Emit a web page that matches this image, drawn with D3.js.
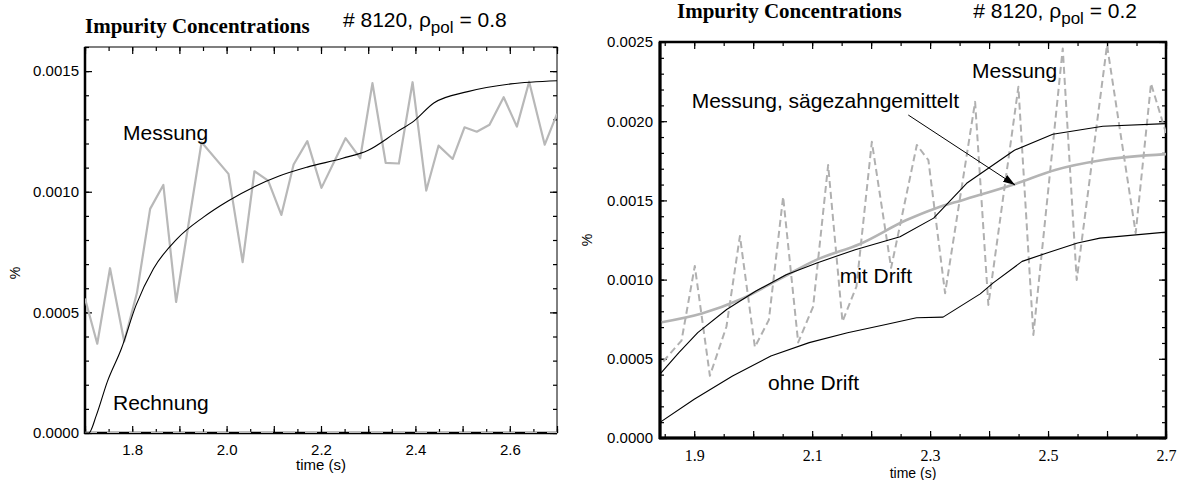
<!DOCTYPE html>
<html>
<head>
<meta charset="utf-8">
<script src="https://cdn.jsdelivr.net/npm/d3@7"></script>
<style>
  body { margin: 0; background: #fff; }
  text { font-family: "Liberation Sans", Arial, sans-serif; fill: #000; }
</style>
</head>
<body>
<div id="wrapper"></div>
<script>
// left panel (rho_pol = 0.8)
const leftCalcT = [1.700, 1.708, 1.724, 1.747, 1.777, 1.808, 1.845, 1.895, 1.951, 2.004, 2.057, 2.110, 2.171, 2.246, 2.299, 2.360, 2.398, 2.439, 2.511, 2.602, 2.700];
const leftCalcV = [0, 0, 0.000073, 0.000211, 0.000349, 0.000529, 0.000681, 0.000805, 0.000895, 0.000963, 0.001019, 0.001064, 0.001102, 0.001139, 0.001171, 0.001247, 0.001295, 0.001368, 0.001415, 0.001447, 0.001460];

const leftMeasT = [1.700, 1.726, 1.753, 1.783, 1.810, 1.838, 1.866, 1.893, 1.947, 2.004, 2.034, 2.059, 2.088, 2.116, 2.142, 2.171, 2.201, 2.252, 2.283, 2.309, 2.337, 2.365, 2.394, 2.423, 2.449, 2.479, 2.504, 2.530, 2.557, 2.587, 2.615, 2.641, 2.674, 2.700];
const leftMeasV = [0.000557, 0.000370, 0.000683, 0.000379, 0.000580, 0.000929, 0.001028, 0.000543, 0.001205, 0.001074, 0.000708, 0.001085, 0.001046, 0.000904, 0.001113, 0.001210, 0.001016, 0.001222, 0.001139, 0.001450, 0.001120, 0.001117, 0.001454, 0.001005, 0.001191, 0.001136, 0.001267, 0.001249, 0.001278, 0.001392, 0.001270, 0.001456, 0.001195, 0.001323];

const leftZeroT = [1.70, 2.70];
const leftZeroV = [0, 0];

// right panel (rho_pol = 0.2)
const rightMeasT = [1.8475, 1.8785, 1.901, 1.9266, 1.9547, 1.9775, 2.0029, 2.0266, 2.0508, 2.0763, 2.1017, 2.1271, 2.1514, 2.1751, 2.2012, 2.2339, 2.2775, 2.2971, 2.3254, 2.3763, 2.3988, 2.4497, 2.4751, 2.5249, 2.5486, 2.600, 2.6486, 2.6746, 2.700];
const rightMeasV = [0.000483, 0.000615, 0.001086, 0.000393, 0.000704, 0.001275, 0.000574, 0.000746, 0.001523, 0.000603, 0.000830, 0.001723, 0.000735, 0.000956, 0.001870, 0.001074, 0.001850, 0.001754, 0.000914, 0.002122, 0.000840, 0.002217, 0.000651, 0.002459, 0.000998, 0.002480, 0.001294, 0.002238, 0.001925];

const rightAvgT = [1.845, 1.913, 1.978, 2.043, 2.108, 2.181, 2.260, 2.310, 2.356, 2.443, 2.512, 2.593, 2.700];
const rightAvgV = [0.000731, 0.000786, 0.000874, 0.001000, 0.001126, 0.001225, 0.001376, 0.001451, 0.001503, 0.001602, 0.001692, 0.001755, 0.001792];

const rightDriftT = [1.842, 1.874, 1.906, 1.955, 2.004, 2.056, 2.108, 2.173, 2.249, 2.306, 2.362, 2.443, 2.508, 2.593, 2.700];
const rightDriftV = [0.000403, 0.000539, 0.000665, 0.000811, 0.000926, 0.001031, 0.001105, 0.001189, 0.001271, 0.001388, 0.001608, 0.001817, 0.001918, 0.001968, 0.001985];

const rightNoDriftT = [1.842, 1.900, 1.965, 2.030, 2.095, 2.160, 2.225, 2.277, 2.322, 2.385, 2.407, 2.456, 2.498, 2.550, 2.588, 2.700];
const rightNoDriftV = [0.000099, 0.000245, 0.000392, 0.000518, 0.000602, 0.000665, 0.000717, 0.000759, 0.000763, 0.000910, 0.000979, 0.001115, 0.001168, 0.001231, 0.001262, 0.001300];

// tick labels
const leftXTicks = [1.8, 2.0, 2.2, 2.4, 2.6];
const leftYTicks = [0, 0.0005, 0.0010, 0.0015];
const rightXTicks = [1.9, 2.1, 2.3, 2.5, 2.7];
const rightYTicks = [0, 0.0005, 0.0010, 0.0015, 0.0020, 0.0025];

const zip = (t, v) => t.map((d, i) => ({ t: d, v: v[i] }));

function drawChart() {
    const svg = d3.select('#wrapper')
        .append('svg')
        .attr('width', 1179)
        .attr('height', 480);

    svg.append('defs').append('marker')
        .attr('id', 'arrow')
        .attr('viewBox', '0 0 12 8')
        .attr('refX', 12)
        .attr('refY', 4)
        .attr('markerWidth', 12)
        .attr('markerHeight', 8)
        .attr('markerUnits', 'userSpaceOnUse')
        .attr('orient', 'auto')
        .append('path')
        .attr('d', 'M0,0 L12,4 L0,8 Z')
        .attr('fill', '#000');

    function panel(p) {
        const x = d3.scaleLinear().domain(p.xDomain).range(p.xRange);
        const y = d3.scaleLinear().domain(p.yDomain).range(p.yRange);
        const g = svg.append('g');
        const [x0, x1] = p.xRange;
        const [y0, y1] = p.yRange;

        g.append('clipPath').attr('id', p.id + '-clip')
            .append('rect')
            .attr('x', x0).attr('y', y1)
            .attr('width', x1 - x0).attr('height', y0 - y1);

        // frame
        g.append('rect')
            .attr('x', x0).attr('y', y1)
            .attr('width', x1 - x0).attr('height', y0 - y1)
            .attr('fill', 'none')
            .attr('stroke', '#000')
            .attr('stroke-width', p.frameWidth);
        g.append('line')
            .attr('x1', x0).attr('x2', x0).attr('y1', y1).attr('y2', y0 + 1)
            .attr('stroke', '#000').attr('stroke-width', p.axisWidth);
        g.append('line')
            .attr('x1', x0 - 1).attr('x2', x1).attr('y1', y0).attr('y2', y0)
            .attr('stroke', '#000').attr('stroke-width', p.axisWidth);

        // inward ticks on all four sides
        const tickSets = [
            [d3.axisBottom(x), p.xMajor, 7, `translate(0,${y0})`],
            [d3.axisBottom(x), p.xMinor, 4, `translate(0,${y0})`],
            [d3.axisTop(x), p.xMajor, 7, `translate(0,${y1})`],
            [d3.axisTop(x), p.xMinor, 4, `translate(0,${y1})`],
            [d3.axisLeft(y), p.yMajor, 7, `translate(${x0},0)`],
            [d3.axisLeft(y), p.yMinor, 4, `translate(${x0},0)`],
            [d3.axisRight(y), p.yMajor, 7, `translate(${x1},0)`],
            [d3.axisRight(y), p.yMinor, 4, `translate(${x1},0)`]
        ];
        tickSets.forEach(([gen, vals, len, tr]) => {
            const a = g.append('g')
                .attr('transform', tr)
                .call(gen.tickValues(vals).tickSize(-len).tickSizeOuter(0).tickFormat(''));
            a.select('.domain').remove();
            a.selectAll('line').attr('stroke', '#000').attr('stroke-width', 1.2);
        });

        // tick labels
        const xl = g.append('g')
            .attr('transform', `translate(0,${y0})`)
            .call(d3.axisBottom(x).tickValues(p.xLabels).tickSize(0).tickPadding(p.xPad).tickFormat(d3.format('.1f')));
        xl.select('.domain').remove();
        xl.selectAll('text')
            .style('font-family', p.xFont)
            .style('font-size', p.xFontSize + 'px')
            .attr('fill', '#000');

        const yl = g.append('g')
            .attr('transform', `translate(${x0},0)`)
            .call(d3.axisLeft(y).tickValues(p.yLabels).tickSize(0).tickPadding(p.yPad).tickFormat(d3.format('.4f')));
        yl.select('.domain').remove();
        yl.selectAll('text')
            .style('font-family', '"Liberation Sans", Arial, sans-serif')
            .style('font-size', '15px')
            .attr('fill', '#000');

        const line = d3.line().x(d => x(d.t)).y(d => y(d.v));
        const plot = g.append('g').attr('clip-path', `url(#${p.id}-clip)`);
        p.series.forEach(s => {
            plot.append('path')
                .attr('d', line.curve(s.curve || d3.curveLinear)(s.data))
                .attr('fill', 'none')
                .attr('stroke', s.color)
                .attr('stroke-width', s.width)
                .attr('stroke-dasharray', s.dash || null)
                .attr('stroke-linejoin', 'round');
        });

        // axis titles
        g.append('text')
            .attr('x', (x0 + x1) / 2)
            .attr('y', p.xTitleY)
            .attr('text-anchor', 'middle')
            .style('font-size', p.xTitleSize + 'px')
            .text('time (s)');
        g.append('text')
            .attr('transform', `translate(${p.yTitleX},${p.yTitleY}) rotate(-90)`)
            .attr('text-anchor', 'middle')
            .style('font-size', '14px')
            .text('%');

        // heading
        g.append('text')
            .attr('x', p.titleX)
            .attr('y', p.titleY)
            .style('font-family', '"Liberation Serif", "Times New Roman", serif')
            .style('font-weight', 'bold')
            .style('font-size', '21px')
            .text('Impurity Concentrations');
        const sub = g.append('text')
            .attr('x', p.shotX)
            .attr('y', p.shotY)
            .attr('text-anchor', p.shotAnchor)
            .style('font-size', '21px');
        sub.append('tspan').text('# 8120, \u03c1');
        sub.append('tspan').attr('dy', 6).style('font-size', '17px').text('pol');
        sub.append('tspan').attr('dy', -6).text(' = ' + p.rho);

        p.labels.forEach(l => {
            g.append('text')
                .attr('x', l.x).attr('y', l.y)
                .attr('text-anchor', l.anchor || 'start')
                .style('font-size', '21px')
                .text(l.text);
        });

        return { x, y, g };
    }

    const step = (a, b, s) => d3.range(Math.round(a / s), Math.round(b / s) + 1).map(i => +(i * s).toFixed(6));

    panel({
        id: 'left',
        xDomain: [1.7, 2.7], xRange: [85, 557],
        yDomain: [0, 0.0016], yRange: [433, 47],
        xMajor: step(1.7, 2.7, 0.1), xMinor: step(1.7, 2.7, 0.05),
        yMajor: step(0, 0.0015, 0.0005), yMinor: step(0, 0.0016, 0.0001),
        xLabels: leftXTicks, yLabels: leftYTicks,
        xFont: '"Liberation Sans", Arial, sans-serif', xFontSize: 15, xPad: 11, yPad: 6,
        frameWidth: 1, axisWidth: 2.5,
        xTitleY: 470, xTitleSize: 15, yTitleX: 20, yTitleY: 273,
        titleX: 85, titleY: 33,
        shotX: 343, shotY: 27, shotAnchor: 'start', rho: '0.8',
        series: [
            { data: zip(leftZeroT, leftZeroV), color: '#bdbdbd', width: 2.5, dash: '12,10' },
            { data: zip(leftMeasT, leftMeasV), color: '#b8b8b8', width: 2.2 },
            { data: zip(leftCalcT, leftCalcV), color: '#000', width: 1.1, curve: d3.curveMonotoneX }
        ],
        labels: [
            { text: 'Messung', x: 123, y: 140 },
            { text: 'Rechnung', x: 113, y: 410 }
        ]
    });

    const right = panel({
        id: 'right',
        xDomain: [1.842, 2.7], xRange: [660, 1166],
        yDomain: [0, 0.0025], yRange: [438, 42],
        xMajor: step(1.9, 2.7, 0.1), xMinor: step(1.85, 2.7, 0.05),
        yMajor: step(0, 0.0025, 0.0005), yMinor: step(0, 0.0025, 0.0001),
        xLabels: rightXTicks, yLabels: rightYTicks,
        xFont: '"Liberation Serif", "Times New Roman", serif', xFontSize: 16, xPad: 12, yPad: 7,
        frameWidth: 2.5, axisWidth: 3,
        xTitleY: 478, xTitleSize: 14, yTitleX: 592, yTitleY: 240,
        titleX: 677, titleY: 18,
        shotX: 1137, shotY: 18, shotAnchor: 'end', rho: '0.2',
        series: [
            { data: zip(rightMeasT, rightMeasV), color: '#b0b0b0', width: 2, dash: '7,4' },
            { data: zip(rightAvgT, rightAvgV), color: '#b4b4b4', width: 2.6, curve: d3.curveMonotoneX },
            { data: zip(rightDriftT, rightDriftV), color: '#000', width: 1.1 },
            { data: zip(rightNoDriftT, rightNoDriftV), color: '#000', width: 1.1 }
        ],
        labels: [
            { text: 'Messung', x: 972, y: 78 },
            { text: 'Messung, s\u00e4gezahngemittelt', x: 959, y: 108, anchor: 'end' },
            { text: 'mit Drift', x: 912, y: 283, anchor: 'end' },
            { text: 'ohne Drift', x: 768, y: 390 }
        ]
    });

    // arrow from the label to the averaged curve
    right.g.append('line')
        .attr('x1', right.x(2.263)).attr('y1', right.y(0.002039))
        .attr('x2', right.x(2.444)).attr('y2', right.y(0.001597))
        .attr('stroke', '#000')
        .attr('stroke-width', 1)
        .attr('marker-end', 'url(#arrow)');
}

drawChart();
</script>
</body>
</html>
